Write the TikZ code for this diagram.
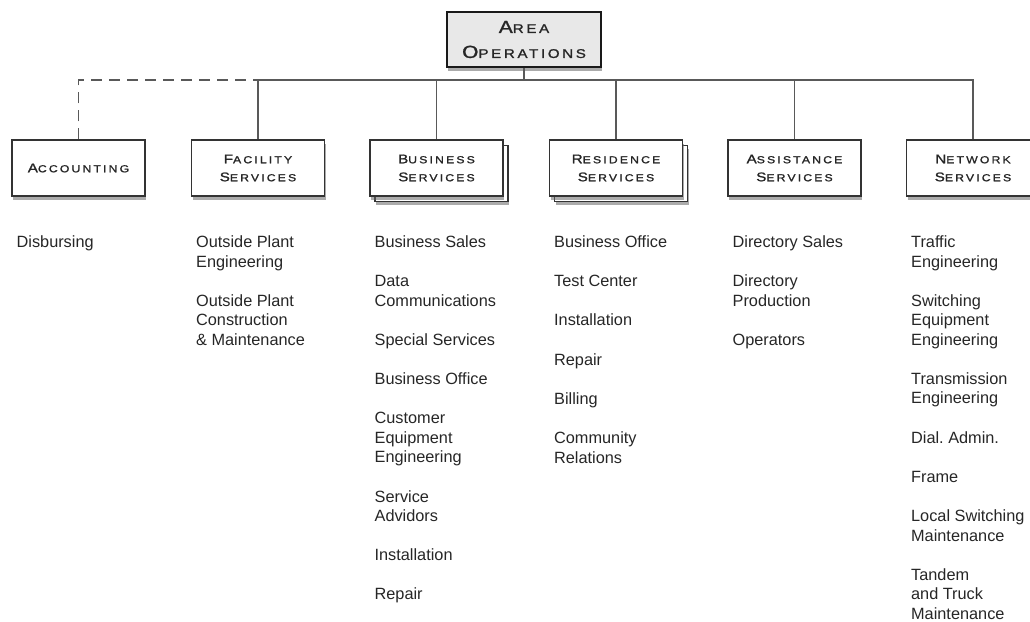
\documentclass[tikz,border=0pt]{standalone}
\usepackage{fontspec}
\setmainfont{Liberation Sans}
\newfontfamily\capsfont[FakeStretch=1.2,LetterSpace=21,FakeBold=1.3]{Liberation Sans}
\usetikzlibrary{shadows}
\frenchspacing

\newcommand\capword[2]{{\fontsize{12.6}{18}\selectfont #1}{\fontsize{10.2}{18}\selectfont #2}}
\newcommand\topword[2]{{\fontsize{17.5}{25}\selectfont #1}{\fontsize{12.6}{25}\selectfont #2}}

\tikzset{
  unit box/.style={draw=black!80, line width=1.1pt, fill=white, text=black!85,
    minimum width=133pt, minimum height=56pt, inner sep=0pt, align=center,
    font=\capsfont\fontsize{10.2}{18}\selectfont,
    drop shadow={shadow xshift=1pt, shadow yshift=-3.5pt, opacity=0.55, fill=black!60}},
  head box/.style={unit box, fill=black!9, draw=black!90, line width=2.2pt,
    minimum width=154pt, minimum height=55pt, font=\capsfont\fontsize{12.6}{25}\selectfont},
  duty list/.style={anchor=north west, inner sep=0pt, align=left, text=black!85,
    font=\fontsize{16.3}{19.5}\selectfont},
  link/.style={draw=black!65, line width=1.1pt}
}

\begin{document}
\begin{tikzpicture}[x=1pt,y=-1pt]
\useasboundingbox (0,0) rectangle (1030,621);

\node[head box] (area) at (524,39.5) {\topword{A}{REA}\\\topword{O}{PERATIONS}};

% stacked boxes go first
\node[unit box] (bus back) at (441.5,173.5) {};
\node[unit box] (res back) at (621,173.5) {};

\node[unit box] (acc) at (78.5,168) {\capword{A}{CCOUNTING}};
\node[unit box] (fac) at (258,168) {\capword{F}{ACILITY}\\\capword{S}{ERVICES}};
\node[unit box] (bus) at (436.5,168) {\capword{B}{USINESS}\\\capword{S}{ERVICES}};
\node[unit box] (res) at (616,168) {\capword{R}{ESIDENCE}\\\capword{S}{ERVICES}};
\node[unit box] (ass) at (794.5,168) {\capword{A}{SSISTANCE}\\\capword{S}{ERVICES}};
\node[unit box] (net) at (973,168) {\capword{N}{ETWORK}\\\capword{S}{ERVICES}};

\coordinate (bar) at (524,80);
\draw[link] (area) -- (bar);
\foreach \n in {fac,bus,res,ass,net}
  \draw[link] (\n.north) |- (bar);
\draw[link, dash pattern=on 11pt off 7pt] (acc.north) |- (fac.north |- bar);

\node[duty list] (acc list) at ([xshift=5pt,yshift=-39pt]acc.south west) {Disbursing};
\node[duty list] (fac list) at ([xshift=5pt,yshift=-39pt]fac.south west)
  {Outside Plant\\Engineering\\[19.7pt]Outside Plant\\Construction\\\& Maintenance};
\node[duty list] (bus list) at ([xshift=5pt,yshift=-39pt]bus.south west)
  {Business Sales\\[19.7pt]Data\\Communications\\[19.7pt]Special Services\\[19.7pt]Business Office\\[19.7pt]Customer\\Equipment\\Engineering\\[19.7pt]Service\\Advidors\\[19.7pt]Installation\\[19.7pt]Repair};
\node[duty list] (res list) at ([xshift=5pt,yshift=-39pt]res.south west)
  {Business Office\\[19.7pt]Test Center\\[19.7pt]Installation\\[19.7pt]Repair\\[19.7pt]Billing\\[19.7pt]Community\\Relations};
\node[duty list] (ass list) at ([xshift=5pt,yshift=-39pt]ass.south west)
  {Directory Sales\\[19.7pt]Directory\\Production\\[19.7pt]Operators};
\node[duty list] (net list) at ([xshift=5pt,yshift=-39pt]net.south west)
  {Traffic\\Engineering\\[19.7pt]Switching\\Equipment\\Engineering\\[19.7pt]Transmission\\Engineering\\[19.7pt]Dial. Admin.\\[19.7pt]Frame\\[19.7pt]Local Switching\\Maintenance\\[19.7pt]Tandem\\and Truck\\Maintenance};
\end{tikzpicture}
\end{document}
